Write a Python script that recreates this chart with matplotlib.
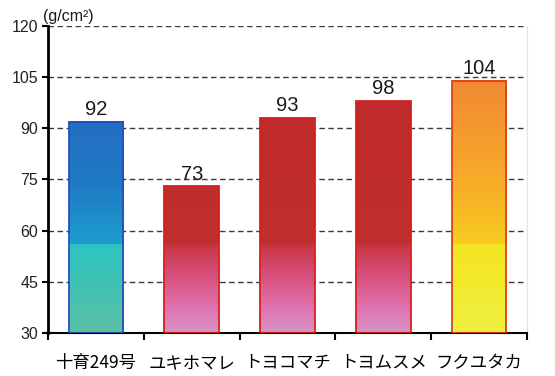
import numpy as np
import matplotlib.pyplot as plt
from matplotlib.colors import to_rgb

plt.rcParams['font.family'] = ['Liberation Sans', 'Noto Sans CJK JP', 'DejaVu Sans']

varieties = ['十育249号', 'ユキホマレ', 'トヨコマチ', 'トヨムスメ', 'フクユタカ']
values = [92, 73, 93, 98, 104]
yticks = [30, 45, 60, 75, 90, 105, 120]

# colour stops (value, colour) for each bar, split at the seam near 56
blue_top = [(56, '#1c9ccc'), (75, '#2078c4'), (120, '#2a5cc0')]
blue_low = [(30, '#5cc0a4'), (45, '#3ec2b4'), (56, '#2cc4c4')]
red_top = [(56, '#bf2e30'), (120, '#c0282a')]
red_low = [(30, '#d694c8'), (38, '#e070ac'), (48, '#d64c74'), (56, '#c63440')]
gold_top = [(56, '#f8cc22'), (80, '#f6a42a'), (110, '#f08236')]
gold_low = [(30, '#f0f044'), (45, '#f2ea2c'), (56, '#f4e424')]

fills = [(blue_top, blue_low, '#2450c0'),
         (red_top, red_low, '#d4201e'),
         (red_top, red_low, '#d4201e'),
         (red_top, red_low, '#d4201e'),
         (gold_top, gold_low, '#e0401c')]

seam = 56


def ramp(stops, y):
    ys = [s[0] for s in stops]
    cs = np.array([to_rgb(s[1]) for s in stops])
    return np.stack([np.interp(y, ys, cs[:, k]) for k in range(3)], axis=-1)


fig = plt.figure(figsize=(5.55, 3.76), dpi=100)
ax = fig.add_axes([48 / 555, 43 / 376, 479 / 555, 307 / 376])

x = np.arange(len(values)) + 0.5
width = 0.57

for yv in yticks[1:]:
    ax.axhline(yv, color='#3a3a3a', lw=1, ls=(0, (4, 2.5)), zorder=1)

for xi, v, (top, low, edge) in zip(x, values, fills):
    y = np.linspace(v, 30, 300)
    col = np.where((y > seam)[:, None], ramp(top, y), ramp(low, y))
    ax.imshow(col[:, None, :], extent=(xi - width / 2, xi + width / 2, 30, v),
              aspect='auto', interpolation='bilinear', zorder=2)
    ax.bar(xi, v - 30, bottom=30, width=width, facecolor='none',
           edgecolor=edge, lw=1.3, zorder=3)
    ax.annotate(str(v), (xi, v), xytext=(0, 2), textcoords='offset points',
                ha='center', va='bottom', fontsize=14.5, color='#1a1a1a')

ax.set_xlim(0, len(values))
ax.set_ylim(30, 120)
ax.set_yticks(yticks)
ax.set_xticks(np.arange(len(values) + 1))
ax.set_xticklabels([])
ax.set_xticks(x, minor=True)
ax.set_xticklabels(varieties, minor=True, fontsize=12.5,
                   family=['Noto Sans CJK JP', 'DejaVu Sans'])
ax.tick_params(axis='x', which='minor', length=0, pad=15)
ax.tick_params(axis='x', which='major', length=5, width=1.5, direction='out')
ax.tick_params(axis='y', length=4, width=1.5, labelsize=11.5, pad=3,
               labelcolor='#222222')

ax.spines['top'].set_visible(False)
ax.spines['right'].set_color('#e2e2e2')
ax.spines['right'].set_linewidth(0.8)
ax.spines['left'].set_linewidth(2)
ax.spines['bottom'].set_linewidth(1.5)

fig.text(43 / 555, 1 - 16 / 376, '(g/cm²)', fontsize=11.5, va='center',
         ha='left', color='#1a1a1a', fontweight='medium')

fig.savefig('out.png', dpi=100)
